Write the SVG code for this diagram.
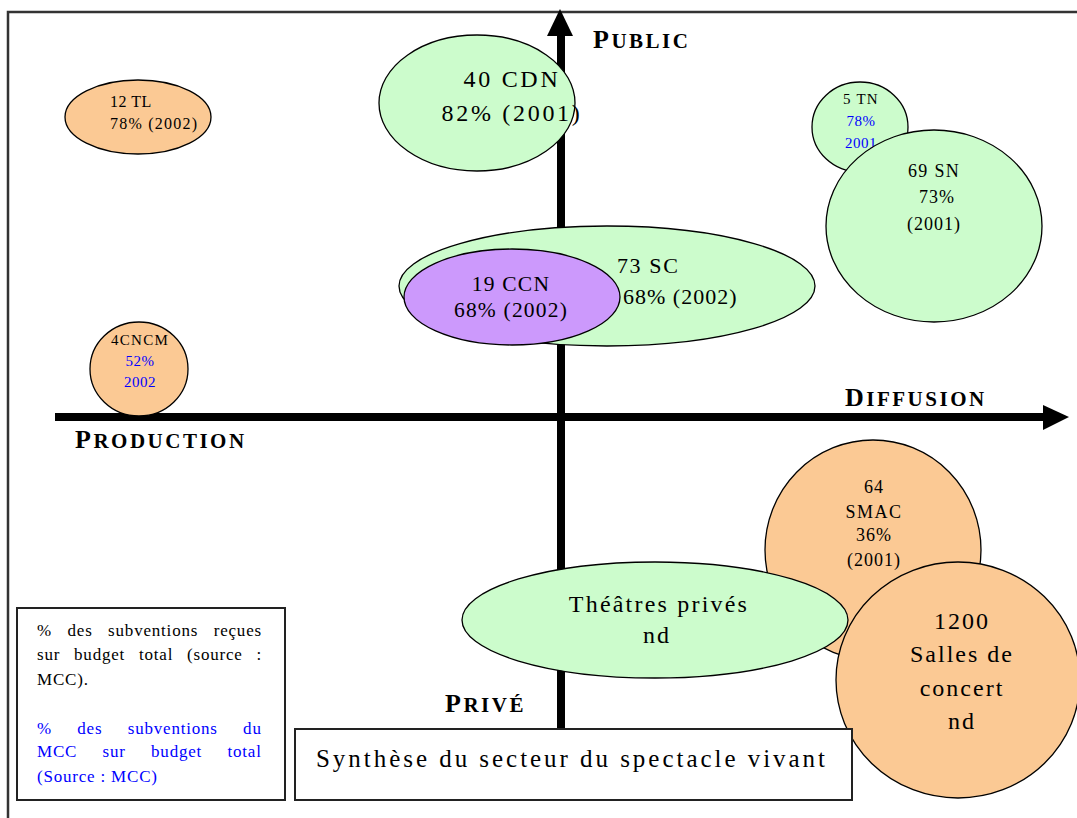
<svg xmlns="http://www.w3.org/2000/svg" width="1077" height="818" viewBox="0 0 1077 818">
<style>
.t{font-family:"Liberation Serif","Times New Roman",serif;fill:#000}
.b{fill:#0000ff}
.ax{font-family:"Liberation Serif","Times New Roman",serif;font-weight:bold;fill:#000;letter-spacing:2.5px}
.peach{fill:#fbc994;stroke:#000;stroke-width:1.3}
.green{fill:#ccfccc;stroke:#000;stroke-width:1.3}
.purple{fill:#cc99fc;stroke:#000;stroke-width:1.3}
.box{fill:#fff;stroke:#222;stroke-width:2}
.lg{font-size:17px;letter-spacing:0.8px}
</style>
<rect width="1077" height="818" fill="#fff"/>
<g id="frame" fill="none" stroke="#333" stroke-width="2.5">
<path d="M8,818 V12 H1077"/>
</g>
<g id="connectors">
<rect x="557" y="30" width="8" height="700" fill="#000"/>
<polygon points="547,36 560,9 573,36" fill="#000"/>
<rect x="55" y="413" width="992" height="8" fill="#000"/>
<polygon points="1043,405 1069,417 1043,430" fill="#000"/>
</g>
<g id="n12tl">
<ellipse class="peach" cx="138" cy="117" rx="73" ry="37"/>
<text class="t" font-size="16" x="110" y="107" letter-spacing="0.5">12 TL</text>
<text class="t" font-size="16" x="110" y="129" textLength="87" lengthAdjust="spacing">78% (2002)</text>
</g>
<g id="n40cdn">
<ellipse class="green" cx="477" cy="103" rx="98" ry="68"/>
<text class="t" font-size="24" x="512" y="87" text-anchor="middle" letter-spacing="2.7">40 CDN</text>
<text class="t" font-size="24" x="512" y="121" text-anchor="middle" letter-spacing="2.7">82% (2001)</text>
</g>
<g id="n5tn">
<ellipse class="green" cx="860" cy="127" rx="48" ry="45"/>
<text class="t" font-size="15" x="861" y="104" text-anchor="middle" letter-spacing="1.2">5 TN</text>
<text class="t b" font-size="15" x="861" y="126" text-anchor="middle" letter-spacing="0.5">78%</text>
<text class="t b" font-size="15" x="861" y="148" text-anchor="middle" letter-spacing="0.5">2001</text>
</g>
<g id="n69sn">
<ellipse class="green" cx="934" cy="226" rx="108" ry="96"/>
<text class="t" font-size="18" x="934" y="177" text-anchor="middle" letter-spacing="1.3">69 SN</text>
<text class="t" font-size="18" x="937" y="203" text-anchor="middle" letter-spacing="1">73%</text>
<text class="t" font-size="18" x="934" y="230" text-anchor="middle" letter-spacing="1">(2001)</text>
</g>
<g id="n73sc">
<ellipse class="green" cx="607" cy="286" rx="208" ry="60"/>
<text class="t" font-size="22" x="617" y="273" letter-spacing="1.6">73 SC</text>
<text class="t" font-size="22" x="623" y="304" letter-spacing="1">68% (2002)</text>
</g>
<g id="n19ccn">
<ellipse class="purple" cx="512" cy="297" rx="108" ry="48"/>
<text class="t" font-size="21.5" x="511" y="291" text-anchor="middle" letter-spacing="1.2">19 CCN</text>
<text class="t" font-size="21.5" x="511" y="317" text-anchor="middle" letter-spacing="1.2">68% (2002)</text>
</g>
<g id="n4cncm">
<ellipse class="peach" cx="139" cy="369" rx="49" ry="47"/>
<text class="t" font-size="15" x="140" y="345" text-anchor="middle" letter-spacing="1.3">4CNCM</text>
<text class="t b" font-size="15" x="140" y="366" text-anchor="middle" letter-spacing="0.5">52%</text>
<text class="t b" font-size="15" x="140" y="387" text-anchor="middle" letter-spacing="0.5">2002</text>
</g>
<g id="nsmac">
<ellipse class="peach" cx="873" cy="550" rx="108" ry="110"/>
<text class="t" font-size="18" x="874" y="493" text-anchor="middle" letter-spacing="1">64</text>
<text class="t" font-size="18" x="874" y="518" text-anchor="middle" letter-spacing="1.5">SMAC</text>
<text class="t" font-size="18" x="874" y="541" text-anchor="middle" letter-spacing="1">36%</text>
<text class="t" font-size="18" x="874" y="566" text-anchor="middle" letter-spacing="1">(2001)</text>
</g>
<g id="ntheatres">
<ellipse class="green" cx="655" cy="620" rx="193" ry="58"/>
<text class="t" font-size="24" x="659" y="612" text-anchor="middle" letter-spacing="2.2">Théâtres privés</text>
<text class="t" font-size="24" x="657" y="643" text-anchor="middle" letter-spacing="2">nd</text>
</g>
<g id="n1200">
<ellipse class="peach" cx="958" cy="680" rx="122" ry="118"/>
<text class="t" font-size="24" x="962" y="629" text-anchor="middle" letter-spacing="2">1200</text>
<text class="t" font-size="24" x="962" y="662" text-anchor="middle" letter-spacing="2">Salles de</text>
<text class="t" font-size="24" x="962" y="696" text-anchor="middle" letter-spacing="2">concert</text>
<text class="t" font-size="24" x="962" y="729" text-anchor="middle" letter-spacing="2">nd</text>
</g>
<g id="labels">
<text class="ax" x="593" y="48"><tspan font-size="26">P</tspan><tspan font-size="21">UBLIC</tspan></text>
<text class="ax" x="845" y="406"><tspan font-size="26">D</tspan><tspan font-size="21">IFFUSION</tspan></text>
<text class="ax" x="75" y="448"><tspan font-size="26">P</tspan><tspan font-size="21">RODUCTION</tspan></text>
<text class="ax" x="445" y="712"><tspan font-size="26">P</tspan><tspan font-size="21">RIVÉ</tspan></text>
</g>
<g id="legend">
<rect class="box" x="17" y="608" width="268" height="192"/>
<text class="t lg" x="37" y="636" word-spacing="10.5">% des subventions reçues</text>
<text class="t lg" x="37" y="660" word-spacing="8.8">sur budget total (source :</text>
<text class="t lg" x="37" y="685">MCC).</text>
<text class="t b lg" x="37" y="734" word-spacing="20.3">% des subventions du</text>
<text class="t b lg" x="37" y="757" word-spacing="20.3">MCC sur budget total</text>
<text class="t b lg" x="37" y="782">(Source : MCC)</text>
</g>
<g id="title">
<rect class="box" x="295" y="729" width="557" height="71"/>
<text class="t" font-size="25" x="316" y="767" textLength="509" lengthAdjust="spacing">Synthèse du secteur du spectacle vivant</text>
</g>
</svg>
